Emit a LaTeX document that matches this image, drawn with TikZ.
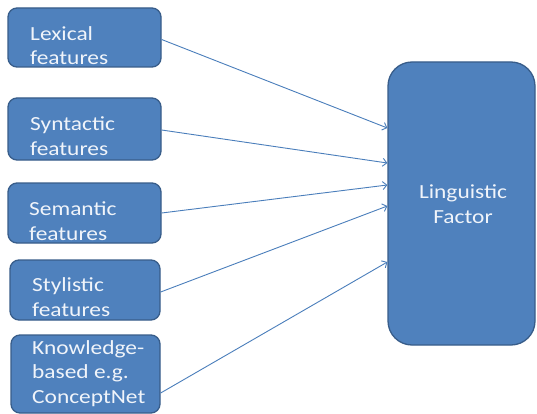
\documentclass[tikz,border=0pt]{standalone}
\usepackage{fontspec}
\setmainfont{Carlito}[FakeStretch=1.17]
\usetikzlibrary{arrows.meta,calc}
\definecolor{boxfill}{HTML}{4F81BD}
\definecolor{boxedge}{HTML}{385D8A}
\definecolor{linkblue}{HTML}{4A7EBB}
\definecolor{textpale}{HTML}{F0F4FA}
\tikzset{
  feat/.style={draw=boxedge, fill=boxfill, line width=1.3pt, rounded corners=9pt, inner sep=0pt},
  factor/.style={feat, rounded corners=24pt},
  txt/.style={text=textpale, font=\fontsize{20}{24.5}\selectfont, align=left, inner sep=0pt},
  link/.style={draw=linkblue, line width=0.9pt, -{Straight Barb[length=4pt,width=8pt]}}
}
\begin{document}
\begin{tikzpicture}[x=1pt,y=-1pt]
  \useasboundingbox (0,0) rectangle (537,414);
  \fill[white] (0,0) rectangle (537,414);

  % feature boxes on the left
  \node[feat, minimum width=153pt, minimum height=59pt] (lex) at (84.5,37.5) {};
  \node[feat, minimum width=153pt, minimum height=62pt] (syn) at (84.5,129) {};
  \node[feat, minimum width=153pt, minimum height=60pt] (sem) at (84.5,213) {};
  \node[feat, minimum width=150pt, minimum height=60pt] (sty) at (85,290) {};
  \node[feat, minimum width=149pt, minimum height=78pt] (kb) at (85.5,374) {};

  % target box
  \node[factor, minimum width=147pt, minimum height=283pt] (lf) at (461.5,203.5) {};

  % labels (anchored at the baseline of their last line)
  \node[txt, anchor=base west] (lexT) at (30,65) {Lexical\\features};
  \node[txt, anchor=base west] (synT) at (30,155) {Syntactic\\features};
  \node[txt, anchor=base west] (semT) at (29,240) {Semantic\\features};
  \node[txt, anchor=base west] (styT) at (32,316) {Stylistic\\features};
  \node[txt, anchor=base west] (kbT) at (32,403) {Knowledge-\\based e.g.\\ConceptNet};
  \node[txt, align=center, anchor=base] (lfT) at (463,223) {Linguistic\\Factor};

  % connectors
  \draw[link] ($(lex.east)+(0,2)$) -- ($(lf.west)+(0,-75.5)$);
  \draw[link] ($(syn.east)+(0,1)$) -- ($(lf.west)+(0,-40.5)$);
  \draw[link] (sem.east) -- ($(lf.west)+(0,-18.5)$);
  \draw[link] ($(sty.east)+(0,2)$) -- ($(lf.west)+(0,2.5)$);
  \draw[link] ($(kb.east)+(0,19)$) -- ($(lf.west)+(0,58.5)$);
\end{tikzpicture}
\end{document}
